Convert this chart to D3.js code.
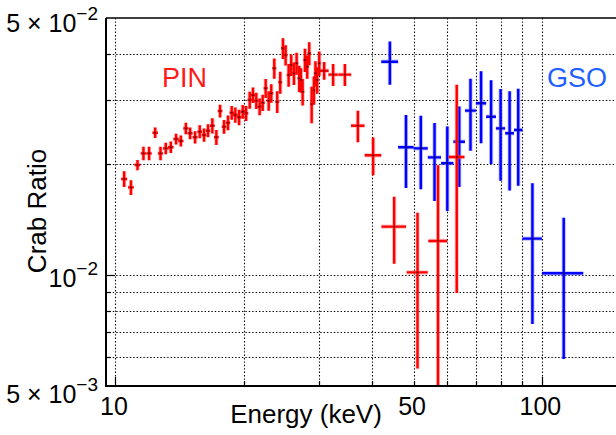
<!DOCTYPE html>
<html>
<head>
<meta charset="utf-8">
<script src="https://cdn.jsdelivr.net/npm/d3@7"></script>
<style>
body { margin: 0; background: #fff; }
text { font-family: "Liberation Sans", Arial, Helvetica, sans-serif; fill: #000; }
</style>
</head>
<body>
<svg id="chart" width="616" height="435"></svg>
<script>
// PIN spectrum ratio (red)
var pinEnergy = [10.48, 10.87, 11.26, 11.63, 11.99, 12.39, 12.75, 13.12, 13.48, 13.87,
  14.23, 14.62, 14.96, 15.37, 15.76, 16.13, 16.48, 16.87, 17.24, 17.59,
  17.97, 18.36, 18.73, 19.10, 19.49, 19.88, 20.24, 20.64, 21.01, 21.39,
  21.78, 22.14, 22.50, 22.87, 23.19, 23.57, 23.95, 24.34, 24.70, 25.06,
  25.47, 25.83, 26.21, 26.59, 26.97, 27.22, 27.47, 27.82, 28.16, 28.47,
  28.84, 29.20, 29.44, 29.72, 30.05, 30.86, 32.39, 34.51, 37.02, 40.20,
  45.03, 51.08, 57.06, 63.13];
var pinEnergyErr = [0.17, 0.17, 0.17, 0.17, 0.17, 0.18, 0.18, 0.2, 0.2, 0.2,
  0.2, 0.2, 0.2, 0.2, 0.2, 0.2, 0.2, 0.22, 0.22, 0.22,
  0.22, 0.22, 0.22, 0.24, 0.24, 0.24, 0.24, 0.24, 0.24, 0.25,
  0.25, 0.25, 0.25, 0.25, 0.25, 0.25, 0.25, 0.25, 0.25, 0.25,
  0.25, 0.25, 0.25, 0.25, 0.25, 0.25, 0.25, 0.25, 0.25, 0.25,
  0.25, 0.25, 0.25, 0.25, 0.25, 0.75, 0.83, 1.2, 1.35, 1.8,
  3.0, 2.9, 2.9, 2.7];
var pinRatio = [0.01826, 0.01733, 0.01993, 0.02144, 0.02144, 0.02439, 0.02144, 0.02212, 0.02227, 0.02345,
  0.02316, 0.02507, 0.0243, 0.0237, 0.02455, 0.02405, 0.0247, 0.02549, 0.0237, 0.02794,
  0.02533, 0.02597, 0.02765, 0.02725, 0.02686, 0.02782, 0.02754, 0.02993, 0.03088, 0.0298,
  0.0287, 0.02943, 0.03221, 0.0298, 0.03121, 0.0365, 0.02961, 0.03344, 0.04136, 0.03967,
  0.035, 0.03727, 0.03537, 0.03766, 0.03429, 0.03393, 0.03153, 0.03845, 0.03687, 0.04009,
  0.0292, 0.03187, 0.03537, 0.03393, 0.03766, 0.03596, 0.03508, 0.03508, 0.02549, 0.02118,
  0.01355, 0.01018, 0.01239, 0.02095];
var pinRatioErr = [0.0009, 0.0008, 0.00063, 0.0009, 0.0009, 0.0008, 0.0009, 0.0008, 0.0008, 0.0008,
  0.0008, 0.0009, 0.0009, 0.0009, 0.001, 0.001, 0.001, 0.0012, 0.0011, 0.0011,
  0.0011, 0.0012, 0.0012, 0.0013, 0.0013, 0.0012, 0.0013, 0.0016, 0.0015, 0.0015,
  0.0015, 0.0015, 0.0019, 0.0018, 0.0018, 0.0023, 0.002, 0.0023, 0.0027, 0.0025,
  0.0025, 0.0025, 0.0025, 0.0026, 0.0028, 0.0026, 0.0026, 0.0028, 0.0027, 0.0029,
  0.0033, 0.0028, 0.0028, 0.0028, 0.0029, 0.002, 0.0024, 0.0024, 0.0025, 0.0025,
  0.0028, 0.0046, 0.0075, 0.012];

// GSO spectrum ratio (blue)
var gsoEnergy = [44, 48, 52, 56, 60, 64, 68, 72, 76, 80, 84, 88, 95, 112.5];
var gsoEnergyErr = [2, 2, 2, 2, 2, 2, 2, 2, 2, 2, 2, 2, 5, 12.5];
var gsoRatio = [0.03804, 0.02227, 0.02212, 0.02091, 0.02015, 0.02306, 0.028, 0.02932, 0.02696, 0.02507,
  0.0243, 0.02481, 0.01257, 0.01012];
var gsoRatioErr = [0.0051, 0.005, 0.005, 0.005, 0.0052, 0.0057, 0.0062, 0.0065, 0.0069, 0.007,
  0.0073, 0.0073, 0.0052, 0.0042];

// axes
var xDomain = [9.5, 150];
var yDomain = [0.005, 0.05];
var xGridValues = [10, 20, 30, 40, 50, 60, 70, 80, 90, 100];
var xMajorValues = [10, 100];
var xTickValues = [10, 50, 100];
var yGridValues = [0.006, 0.007, 0.008, 0.009, 0.01, 0.02, 0.03, 0.04];
var yMajorValues = [0.01];
var yTickValues = [0.005, 0.01, 0.05];
var yTickMantissa = ["5 \u00d7 10", "10", "5 \u00d7 10"];
var yTickExponent = ["\u22123", "\u22122", "\u22122"];

var svg = d3.select("#chart");
var plotLeft = 106, plotRight = 617, plotTop = 18, plotBottom = 386;

var x = d3.scaleLog().domain(xDomain).range([plotLeft, plotRight]);
var y = d3.scaleLog().domain(yDomain).range([plotBottom, plotTop]);

svg.append("defs").append("clipPath").attr("id", "plotclip")
  .append("rect").attr("x", plotLeft).attr("y", plotTop)
  .attr("width", plotRight - plotLeft).attr("height", plotBottom - plotTop);

// dotted grid
var grid = svg.append("g").attr("stroke", "#000").attr("stroke-width", 1.1)
  .attr("stroke-dasharray", "1.4,2");
grid.selectAll("line.vx").data(xGridValues).enter().append("line")
  .attr("x1", function(d) { return Math.round(x(d)) + 0.5; })
  .attr("x2", function(d) { return Math.round(x(d)) + 0.5; })
  .attr("y1", plotTop).attr("y2", plotBottom);
grid.selectAll("line.hy").data(yGridValues).enter().append("line")
  .attr("y1", function(d) { return Math.round(y(d)) + 0.5; })
  .attr("y2", function(d) { return Math.round(y(d)) + 0.5; })
  .attr("x1", plotLeft).attr("x2", plotRight);

// ticks on the inside
var ticks = svg.append("g").attr("stroke", "#000").attr("stroke-width", 1.2);
ticks.selectAll("line.tx").data(xGridValues).enter().append("line")
  .attr("x1", function(d) { return Math.round(x(d)) + 0.5; })
  .attr("x2", function(d) { return Math.round(x(d)) + 0.5; })
  .attr("y1", plotBottom)
  .attr("y2", function(d) { return plotBottom - (xMajorValues.indexOf(d) >= 0 ? 9 : 5); });
ticks.selectAll("line.ty").data(yGridValues).enter().append("line")
  .attr("y1", function(d) { return Math.round(y(d)) + 0.5; })
  .attr("y2", function(d) { return Math.round(y(d)) + 0.5; })
  .attr("x1", plotLeft)
  .attr("x2", function(d) { return plotLeft + (yMajorValues.indexOf(d) >= 0 ? 9 : 5); });

// error bars
function drawSeries(E, dE, R, dR, color, halo) {
  var g = svg.append("g").attr("clip-path", "url(#plotclip)");
  var idx = d3.range(E.length);
  function barPath(i) {
    return "M" + x(E[i] - dE[i]) + "," + y(R[i]) + "H" + x(E[i] + dE[i]) +
      "M" + x(E[i]) + "," + y(R[i] - dR[i]) + "V" + y(R[i] + dR[i]);
  }
  g.selectAll("path.halo").data(idx).enter().append("path")
    .attr("d", barPath).attr("fill", "none")
    .attr("stroke", halo).attr("stroke-width", 4.2);
  g.selectAll("path.bar").data(idx).enter().append("path")
    .attr("d", barPath).attr("fill", "none")
    .attr("stroke", color).attr("stroke-width", 2.4);
  g.selectAll("rect.pt").data(idx).enter().append("rect")
    .attr("x", function(i) { return x(E[i]) - 0.7; })
    .attr("y", function(i) { return y(R[i]) - 0.7; })
    .attr("width", 1.4).attr("height", 1.4)
    .attr("fill", "#200");
}
drawSeries(gsoEnergy, gsoEnergyErr, gsoRatio, gsoRatioErr, "#0000ff", "rgba(110,110,255,0.45)");
drawSeries(pinEnergy, pinEnergyErr, pinRatio, pinRatioErr, "#ff0000", "rgba(255,120,120,0.45)");

// frame
var frame = svg.append("g").attr("stroke", "#000").attr("fill", "none");
frame.append("path").attr("stroke-width", 2)
  .attr("d", "M" + (plotRight + 2) + "," + plotBottom + "H" + plotLeft + "V" + plotTop);
frame.append("path").attr("stroke-width", 1.5)
  .attr("d", "M" + plotLeft + "," + plotTop + "H" + (plotRight + 2));

// x tick labels
svg.selectAll("text.xt").data(xTickValues).enter().append("text")
  .attr("x", function(d) { return x(d) - 1.5; })
  .attr("y", 415)
  .attr("text-anchor", "middle")
  .attr("font-size", 25)
  .text(function(d) { return d; });

// y tick labels with powers of ten
yTickValues.forEach(function(v, i) {
  var by = y(v) + 12;
  if (v === yDomain[0]) by += 5;
  if (v === yDomain[1]) by += 2;
  var t = svg.append("text")
    .attr("x", 98).attr("y", by)
    .attr("text-anchor", "end")
    .attr("font-size", 25);
  t.append("tspan").text(yTickMantissa[i]);
  t.append("tspan").attr("font-size", 19).attr("dy", -12).text(yTickExponent[i]);
});

// axis titles
svg.append("text")
  .attr("x", 306).attr("y", 423)
  .attr("text-anchor", "middle")
  .attr("font-size", 26)
  .text("Energy (keV)");

svg.append("text")
  .attr("transform", "translate(46,211) rotate(-90)")
  .attr("text-anchor", "middle")
  .attr("font-size", 26)
  .text("Crab Ratio");

// series labels
svg.append("text")
  .attr("x", 162).attr("y", 87)
  .attr("font-size", 27)
  .style("fill", "#ff1a1a")
  .text("PIN");

svg.append("text")
  .attr("x", 547).attr("y", 87)
  .attr("font-size", 27)
  .style("fill", "#1f5fff")
  .text("GSO");
</script>
</body>
</html>
